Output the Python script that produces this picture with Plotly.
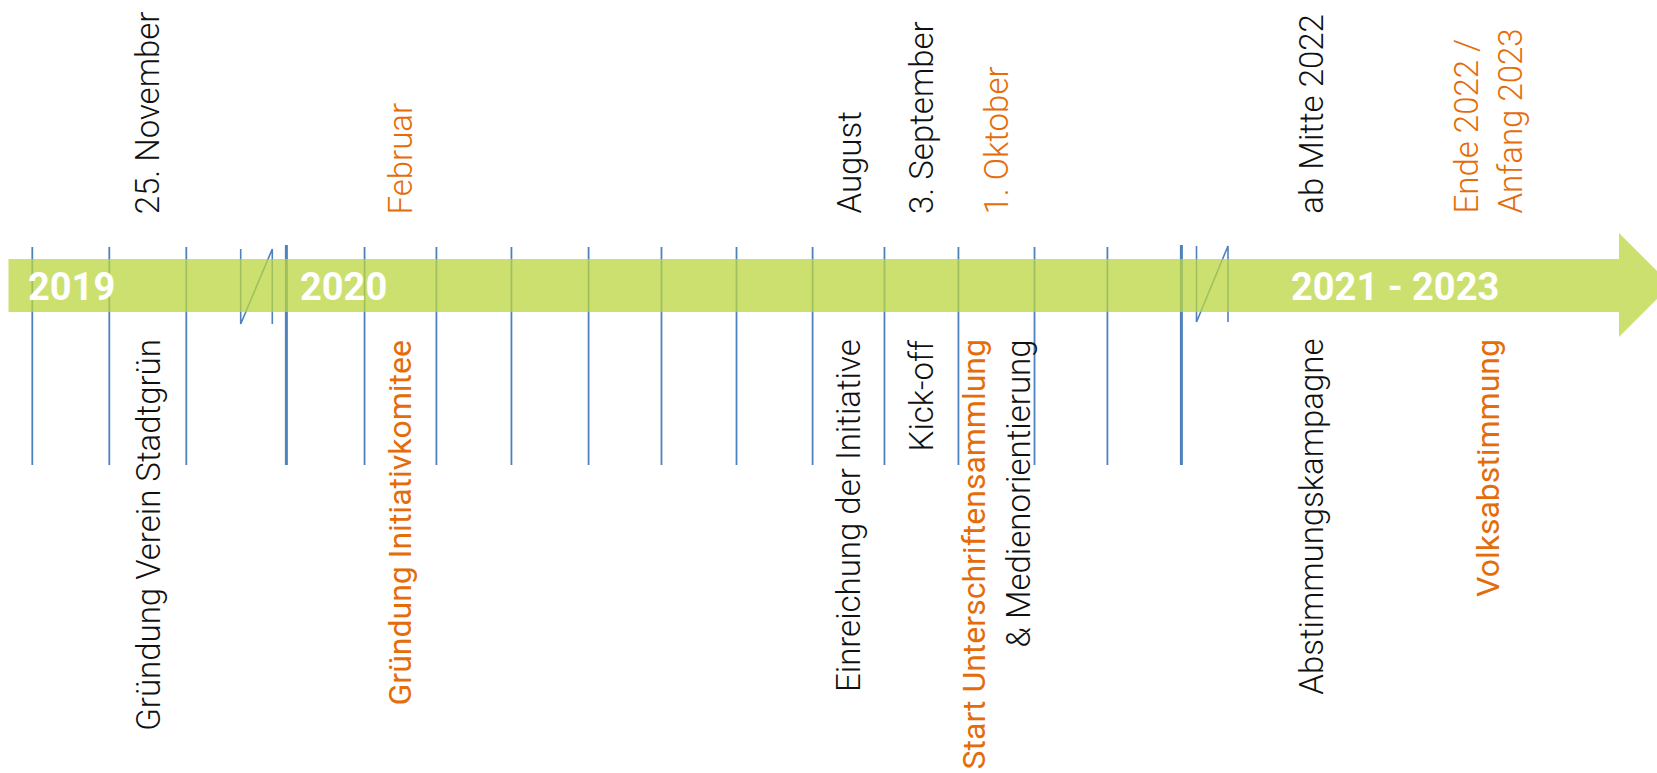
import numpy as np
import plotly.graph_objects as go

# ---------------- data ----------------
YEAR_LABELS = ["2019", "2020", "2021 - 2023"]

TICK_MONTHS_2019 = [10, 11, 12]                      # month starts drawn in 2019
TICK_MONTHS_2020 = list(range(2, 13))                # month starts drawn in 2020 (Jan is a year line)
YEAR_START_TICKS = [(2020, 1), (2021, 1)]            # heavy year boundaries

EVENT_MONTHS = [(2019, 11), (2020, 2), (2020, 8), (2020, 9), (2020, 10), (2022, 7), (2023, 1)]
EVENT_DATE_TEXT = ["25. November", "Februar", "August", "3. September", "1. Oktober",
                   "ab Mitte 2022", "Ende 2022 /|Anfang 2023"]
EVENT_TEXT = ["Gründung Verein Stadtgrün", "Gründung Initiativkomitee", "Einreichung der Initiative",
              "Kick-off", "Start Unterschriftensammlung|& Medienorientierung",
              "Abstimmungskampagne", "Volksabstimmung"]
EVENT_HIGHLIGHT = [False, True, False, False, True, False, True]

# ---------------- styles / layout ----------------
W, H = 1657, 773
GREEN = "rgb(187,214,64)"
BLUE = "#4F81BD"
ORANGE = "#E46C0A"
BLACK = "#111111"
FONT = "Roboto, 'Noto Sans', sans-serif"

# timeline scale (broken axis): month index -> horizontal position
def midx(year, month0):
    return year * 12 + month0

_S = 1.0567
SCALE_DOMAIN = ([midx(2019, 9), midx(2019, 11)]
                + [midx(2020, k) for k in range(13)]
                + [midx(2022, 6.5), midx(2023, 0.5)])
SCALE_RANGE = ([32.3, 186.3]
               + [v * _S for v in [271, 345, 413, 484, 557, 626, 697, 769, 837, 907, 979, 1048, 1118]]
               + [1310.7, 1488.0])

def sx(year, month0):
    return float(np.interp(midx(year, month0), SCALE_DOMAIN, SCALE_RANGE))

BAND_TOP, BAND_BOT = 259, 312
HEAD_X, HEAD_TOP, HEAD_BOT, TIP_X = 1619, 233, 337, 1671
LINE_TOP, LINE_BOT = 247, 465
BREAKS = [(240.7, 272.3, 249, 324), (1196.5, 1228.0, 246, 322)]
TOP_BASE = 216
BOT_BASE = 337
LINE_GAP = 44

fig = go.Figure()
fig.add_trace(go.Scatter(x=[0, W], y=[0, H], mode="markers", marker=dict(opacity=0),
                         hoverinfo="skip", showlegend=False))

shapes = []
for m in TICK_MONTHS_2019:
    x = sx(2019, m - 1)
    shapes.append(dict(type="line", x0=x, x1=x, y0=LINE_TOP, y1=LINE_BOT, line=dict(color=BLUE, width=1.8)))
for m in TICK_MONTHS_2020:
    x = sx(2020, m - 1)
    shapes.append(dict(type="line", x0=x, x1=x, y0=LINE_TOP, y1=LINE_BOT, line=dict(color=BLUE, width=1.8)))
for (yr, m) in YEAR_START_TICKS:
    x = sx(yr, m - 1)
    shapes.append(dict(type="line", x0=x, x1=x, y0=LINE_TOP - 2, y1=LINE_BOT, line=dict(color=BLUE, width=3)))
for (xa, xb, yt, yb) in BREAKS:
    shapes.append(dict(type="path", path=f"M {xa},{yt} L {xa},{yb} L {xb},{yt} L {xb},{yb}",
                       line=dict(color=BLUE, width=1.6)))
path = (f"M 8.5,{BAND_TOP} L {HEAD_X},{BAND_TOP} L {HEAD_X},{HEAD_TOP} L {TIP_X},{(HEAD_TOP+HEAD_BOT)/2} "
        f"L {HEAD_X},{HEAD_BOT} L {HEAD_X},{BAND_BOT} L 8.5,{BAND_BOT} Z")
shapes.append(dict(type="path", path=path, fillcolor=GREEN, opacity=0.75, line=dict(width=0)))

ann = []
YEAR_POS = [(26, "left"), (298, "left"), (1395, "center")]
for lab, (x, xa) in zip(YEAR_LABELS, YEAR_POS):
    ann.append(dict(x=x, y=(BAND_TOP + BAND_BOT) / 2 + 1, xanchor=xa, yanchor="middle", text=lab,
                    showarrow=False, font=dict(family=FONT, size=38, color="white", weight=700)))

for (yr, mo), dtxt, etxt, hl in zip(EVENT_MONTHS, EVENT_DATE_TEXT, EVENT_TEXT, EVENT_HIGHLIGHT):
    xc = sx(yr, mo - 1 + 0.5)
    dlines = dtxt.split("|")
    n = len(dlines)
    for i, t in enumerate(dlines):
        xi = xc + (i - (n - 1) / 2) * LINE_GAP
        ann.append(dict(x=xi, y=TOP_BASE, xanchor="center", yanchor="bottom", text=t, textangle=-90,
                        showarrow=False,
                        font=dict(family=FONT, size=33, color=ORANGE if hl else BLACK, weight=300)))
    elines = etxt.split("|")
    n = len(elines)
    for i, t in enumerate(elines):
        xi = xc + (i - (n - 1) / 2) * LINE_GAP
        strong = hl and i == 0
        ann.append(dict(x=xi, y=BOT_BASE, xanchor="center", yanchor="top", text=t, textangle=-90,
                        showarrow=False,
                        font=dict(family=FONT, size=32 if strong else 33,
                                  color=ORANGE if strong else BLACK,
                                  weight=400 if strong else 300)))

fig.update_layout(
    width=W, height=H, margin=dict(l=0, r=0, t=0, b=0),
    paper_bgcolor="white", plot_bgcolor="white",
    xaxis=dict(range=[0, W], visible=False, fixedrange=True),
    yaxis=dict(range=[H, 0], visible=False, fixedrange=True),
    shapes=shapes, annotations=ann, showlegend=False,
)

fig.write_html("out.html", config={"displayModeBar": False},
               post_script="document.body.style.margin='0';document.body.style.overflow='hidden';")
